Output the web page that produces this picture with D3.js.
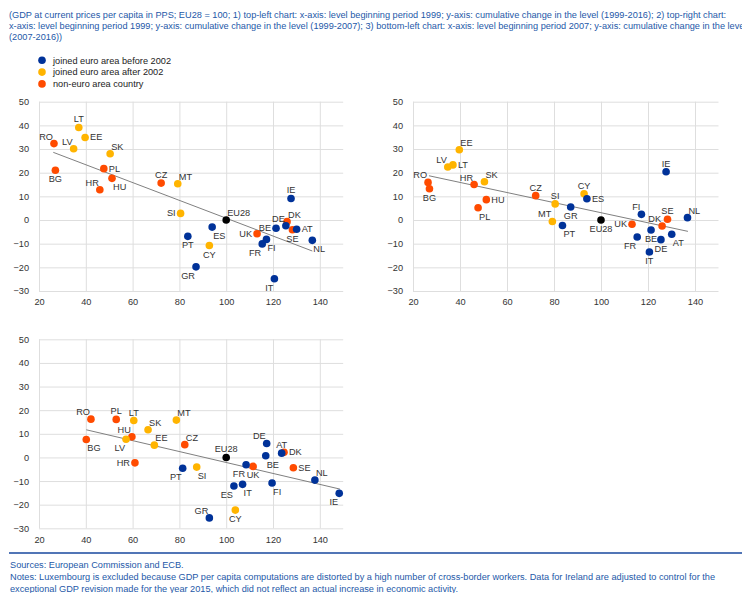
<!DOCTYPE html>
<html>
<head>
<meta charset="utf-8">
<script src="https://cdn.jsdelivr.net/npm/d3@7"></script>
<style>
  body { margin: 0; background: #fff; }
  svg { display: block; font-family: "Liberation Sans", Arial, sans-serif; }
</style>
</head>
<body>
<div id="app"></div>
<script>
// countries in drawing order, with their membership group
const countries = ["BE","DE","IE","ES","FR","IT","NL","AT","PT","FI","GR",
                   "EE","LV","LT","SK","SI","MT","CY",
                   "BG","CZ","DK","HR","HU","PL","RO","SE","UK","EU28"];
const groups = ["before","before","before","before","before","before","before","before","before","before","before",
                "after","after","after","after","after","after","after",
                "non","non","non","non","non","non","non","non","non","eu"];

// level beginning period 1999 (x of both top charts)
const level1999 = [121.3,125.5,127.7,94.0,115.4,120.6,136.8,130.1,83.6,117.2,87.1,
                   39.7,34.8,37.0,50.4,80.5,79.3,92.8,
                   27.0,72.2,126.0,46.0,51.2,47.7,26.4,128.3,113.2,100];
// cumulative change 1999-2016
const change9916 = [-3.5,-2.4,9.1,-3.0,-10.1,-24.8,-8.6,-3.9,-6.9,-8.2,-19.8,
                    34.9,30.1,39.1,28.0,2.8,15.3,-10.8,
                    21.0,15.6,-0.7,12.8,17.6,21.7,32.3,-4.1,-5.8,0];
// cumulative change 1999-2007
const change9907 = [-4.2,-8.3,20.4,9.0,-7.2,-13.5,1.0,-6.0,-2.3,2.4,5.5,
                    29.7,22.4,23.3,16.2,6.8,-0.6,11.1,
                    13.2,10.3,-2.5,15.0,8.6,5.2,15.9,0.3,-1.8,0];
// level beginning period 2007
const level2007 = [116.9,117.3,148.3,103.3,108.5,107.0,137.9,123.7,81.4,119.6,92.8,
                   69.3,57.2,60.5,66.6,87.4,78.7,103.9,
                   40.2,82.3,124.7,61.0,59.7,53.0,42.2,128.7,111.5,100];
// cumulative change 2007-2016
const change0716 = [0.7,5.9,-15.2,-12.1,-3.1,-11.4,-9.6,1.8,-4.6,-10.8,-25.6,
                    5.2,7.7,15.6,11.7,-4.1,15.8,-22.3,
                    7.6,5.4,2.2,-2.3,8.7,16.1,16.2,-4.4,-3.8,0];

// linear trend lines, end points
const trendTL = [[26.1, 28.6], [136.8, -13.1]];
const trendTR = [[26.8, 18.7], [137.0, -4.8]];
const trendBL = [[40.2, 11.7], [148.6, -13.4]];

const xTicks = [20, 40, 60, 80, 100, 120, 140];
const yTicks = [-30, -20, -10, 0, 10, 20, 30, 40, 50];

const legendItems = [
  { key: "before", label: "joined euro area before 2002" },
  { key: "after", label: "joined euro area after 2002" },
  { key: "non", label: "non-euro area country" }
];

const headerLines = [
  "(GDP at current prices per capita in PPS; EU28 = 100; 1) top-left chart: x-axis: level beginning period 1999; y-axis: cumulative change in the level (1999-2016); 2) top-right chart:",
  "x-axis: level beginning period 1999; y-axis: cumulative change in the level (1999-2007); 3) bottom-left chart: x-axis: level beginning period 2007; y-axis: cumulative change in the level",
  "(2007-2016))"
];
const footerLines = [
  "Sources: European Commission and ECB.",
  "Notes: Luxembourg is excluded because GDP per capita computations are distorted by a high number of cross-border workers. Data for Ireland are adjusted to control for the",
  "exceptional GDP revision made for the year 2015, which did not reflect an actual increase in economic activity."
];

// where each point label sits relative to its dot
const labelTL = {BE:"l",DE:"tl",IE:"t",ES:"br",FR:"bl",IT:"bl",NL:"br",AT:"r",PT:"b",FI:"br",GR:"bl",
  EE:"r",LV:"tl",LT:"t",SK:"tr",SI:"l",MT:"tr",CY:"b",BG:"b",CZ:"t",DK:"tr",HR:"tl",HU:"br",PL:"r",
  RO:"tl",SE:"b",UK:"l",EU28:"tr"};
const labelTR = {BE:"b",DE:"b",IE:"t",ES:"r",FR:"bl",IT:"b",NL:"tr",AT:"br",PT:"br",FI:"tl",GR:"b",
  EE:"tr",LV:"tl",LT:"r",SK:"tr",SI:"t",MT:"tl",CY:"t",BG:"b",CZ:"t",DK:"tl",HR:"tl",HU:"r",PL:"br",
  RO:"tl",SE:"t",UK:"l",EU28:"b"};
const labelBL = {BE:"br",DE:"tl",IE:"bl",ES:"bl",FR:"bl",IT:"br",NL:"tr",AT:"t",PT:"bl",FI:"br",GR:"tl",
  EE:"tr",LV:"bl",LT:"t",SK:"tr",SI:"br",MT:"tr",CY:"b",BG:"br",CZ:"tr",DK:"r",HR:"l",HU:"tl",PL:"t",
  RO:"tl",SE:"r",UK:"b",EU28:"t"};

const color = d3.scaleOrdinal()
  .domain(["before", "after", "non", "eu"])
  .range(["#003299", "#ffb400", "#ff4b00", "#000000"]);

const textBlue = "#2458a8";
const offsets = {
  t:  { dx: 0,  dy: -8, anchor: "middle" },
  b:  { dx: 0,  dy: 9,  anchor: "middle" },
  l:  { dx: -5, dy: 0,  anchor: "end" },
  r:  { dx: 5,  dy: 0,  anchor: "start" },
  tl: { dx: -1, dy: -7, anchor: "end" },
  tr: { dx: 1,  dy: -7, anchor: "start" },
  bl: { dx: -1, dy: 9,  anchor: "end" },
  br: { dx: 1,  dy: 9,  anchor: "start" }
};

const svg = d3.select("#app").append("svg")
  .attr("width", 742)
  .attr("height", 593);

// header
svg.append("g").selectAll("text")
  .data(headerLines)
  .enter().append("text")
  .attr("x", 9)
  .attr("y", (d, i) => 18 + i * 11)
  .attr("font-size", "9.2px")
  .attr("fill", textBlue)
  .text(d => d);

// legend
const legend = svg.append("g").selectAll("g")
  .data(legendItems)
  .enter().append("g")
  .attr("transform", (d, i) => `translate(42,${60.3 + i * 11.8})`);
legend.append("circle").attr("r", 3.8).attr("fill", d => color(d.key));
legend.append("text")
  .attr("x", 11).attr("y", 3.2)
  .attr("font-size", "9.2px").attr("fill", "#222")
  .text(d => d.label);

const drawPanel = (xRange, yRange, xs, ys, trend, labelPos, labelPad) => {
  const x = d3.scaleLinear().domain([20, 150]).range(xRange);
  const y = d3.scaleLinear().domain([-30, 50]).range(yRange);
  const g = svg.append("g");
  const w = xRange[1] - xRange[0];
  const h = yRange[0] - yRange[1];

  const gy = g.append("g")
    .attr("transform", `translate(${xRange[0]},0)`)
    .call(d3.axisLeft(y).tickValues(yTicks).tickSize(-w).tickPadding(10));
  const gx = g.append("g")
    .attr("transform", `translate(0,${yRange[0]})`)
    .call(d3.axisBottom(x).tickValues(xTicks).tickSize(-h).tickPadding(labelPad));
  for (const a of [gx, gy]) {
    a.select(".domain").remove();
    a.selectAll("line").attr("stroke", "#dedede");
    a.selectAll("text").attr("font-size", "9.2px").attr("fill", "#333")
      .attr("font-family", "Liberation Sans, Arial, sans-serif");
  }

  // trend line
  g.append("line")
    .attr("x1", x(trend[0][0])).attr("y1", y(trend[0][1]))
    .attr("x2", x(trend[1][0])).attr("y2", y(trend[1][1]))
    .attr("stroke", "#808080").attr("stroke-width", 1);

  const pts = countries.map((c, i) => ({ c, grp: groups[i], x: xs[i], y: ys[i] }));
  const order = ["non", "after", "before", "eu"];
  const sorted = order.flatMap(k => pts.filter(p => p.grp === k));

  g.selectAll(".dot").data(sorted).enter().append("circle")
    .attr("cx", d => x(d.x)).attr("cy", d => y(d.y))
    .attr("r", 3.8).attr("fill", d => color(d.grp));

  g.selectAll(".lbl").data(pts).enter().append("text")
    .attr("x", d => x(d.x) + offsets[labelPos[d.c]].dx)
    .attr("y", d => y(d.y) + offsets[labelPos[d.c]].dy)
    .attr("text-anchor", d => offsets[labelPos[d.c]].anchor)
    .attr("dominant-baseline", "central")
    .attr("font-size", "9.2px").attr("fill", "#333")
    .text(d => d.c);
};

drawPanel([39, 343.2], [291, 101.7], level1999, change9916, trendTL, labelTL, 7.5);
drawPanel([413, 718.5], [291, 101.7], level1999, change9907, trendTR, labelTR, 7.5);
drawPanel([39, 343.2], [528.3, 339.3], level2007, change0716, trendBL, labelBL, 8);

// footer
svg.append("line")
  .attr("x1", 9).attr("x2", 742).attr("y1", 553).attr("y2", 553)
  .attr("stroke", "#17479e").attr("stroke-width", 1.5);
svg.append("g").selectAll("text")
  .data(footerLines)
  .enter().append("text")
  .attr("x", 10)
  .attr("y", (d, i) => 568 + i * 12)
  .attr("font-size", "9.2px")
  .attr("fill", textBlue)
  .text(d => d);
</script>
</body>
</html>
